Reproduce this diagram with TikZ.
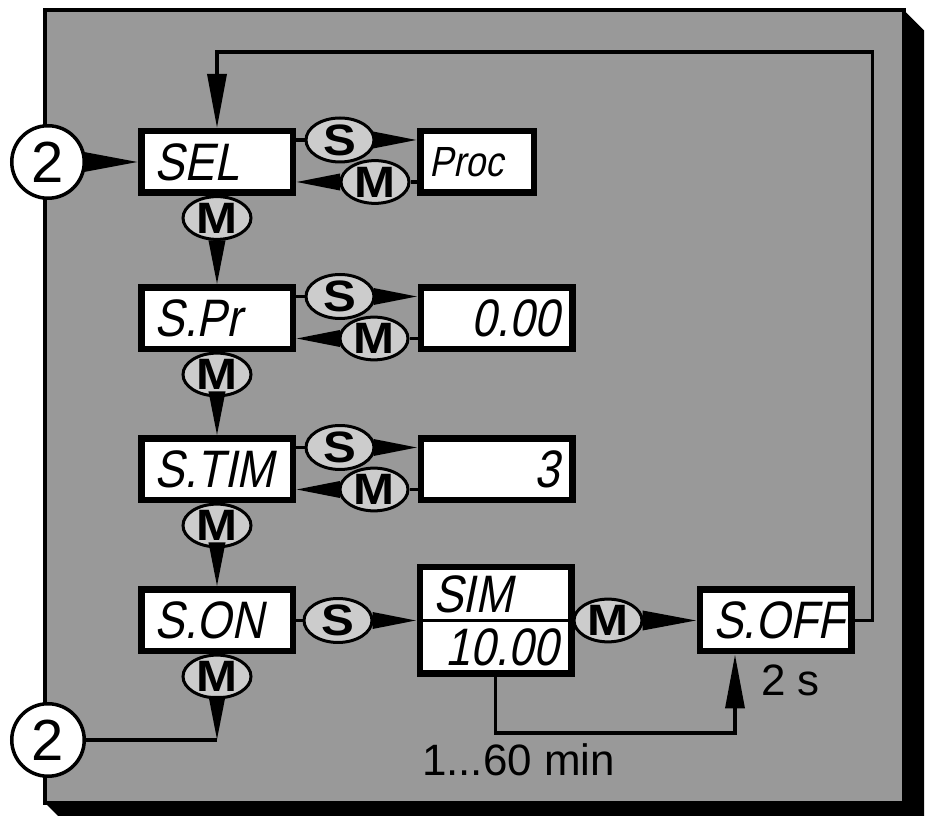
\documentclass[tikz,border=0pt]{standalone}
\usepackage{fontspec}
\setmainfont{Liberation Sans}
\newfontfamily\lcdfont[FakeStretch=0.85,FakeSlant=0.2]{Liberation Sans}
\newfontfamily\keyfont[FakeStretch=1.12]{Liberation Sans}
\usetikzlibrary{positioning, arrows.meta, shapes.geometric}
\definecolor{panelgray}{gray}{0.6}
\definecolor{keygray}{gray}{0.8}

\begin{document}
\begin{tikzpicture}[
    node distance=2cm,
    on grid,
    lcd/.style={
        draw,
        rectangle,
        fill=white,
        line width=0.13cm,
        minimum width=3.03cm,
        minimum height=1.23cm,
        inner sep=0pt,
        text width=2.5cm,
        align=left,
        font=\lcdfont\fontsize{30}{30}\selectfont
    },
    value/.style={lcd, align=right},
    key/.style={
        draw,
        ellipse,
        fill=keygray,
        line width=0.06cm,
        minimum width=1.36cm,
        minimum height=0.8cm,
        inner sep=0pt,
        font=\keyfont\bfseries\fontsize{25}{25}\selectfont
    },
    jump/.style={
        draw,
        circle,
        fill=white,
        line width=0.07cm,
        minimum size=1.45cm,
        inner sep=0pt,
        font=\fontsize{33}{33}\selectfont
    },
    wire/.style={draw, line width=0.07cm},
    wedge/.style={wire, -{Triangle[length=0.88cm,width=0.32cm]}},
    wedge long/.style={wire, -{Triangle[length=1.08cm,width=0.38cm]}},
    note/.style={font=\fontsize{25}{25}\selectfont}
]
\useasboundingbox (0,0) rectangle (18.72,-16.32);
\clip (0,0) rectangle (18.72,-16.32);

% panel
\fill (18.08,-0.21) -- (18.48,-0.61) -- (18.48,-16.46) -- (1.3,-16.46) -- (0.9,-16.06) -- cycle;
\draw[line width=0.08cm, fill=panelgray] (0.9,-0.21) rectangle (18.08,-16.06);

% displays
\node[lcd] (sel) at (4.34,-3.24) {SEL};
\node[lcd, below=3.13 of sel] (spr) {S.Pr};
\node[lcd, below=3.02 of spr] (stim) {S.TIM};
\node[lcd, below=3.02 of stim] (son) {S.ON};

\node[lcd, right=5.2 of sel, minimum width=2.27cm, text width=1.9cm,
      font=\lcdfont\fontsize{24}{24}\selectfont] (proc) {Proc};
\node[value, right=5.59 of spr] (prval) {0.00};
\node[value, right=5.59 of stim] (timval) {3};
\node[lcd, right=5.57 of son, minimum height=2.13cm] (sim) {SIM\\\hspace*{\fill}10.00};
\node[lcd, right=5.6 of sim] (soff) {S.OFF};

% keys
\node[key, above right=0.44 and 2.46 of sel] (s1) {S};
\node[key, below right=0.40 and 3.16 of sel] (m1) {M};
\node[key, above right=0.44 and 2.46 of spr] (s2) {S};
\node[key, below right=0.40 and 3.14 of spr] (m2) {M};
\node[key, above right=0.44 and 2.46 of stim] (s3) {S};
\node[key, below right=0.40 and 3.14 of stim] (m3) {M};
\node[key, right=2.42 of son] (s4) {S};
\node[key, right=2.25 of sim] (m5) {M};

\node[key, below=1.12 of sel] (mv1) {M};
\node[key, below=1.12 of spr] (mv2) {M};
\node[key, below=1.12 of stim] (mv3) {M};
\node[key, below=1.12 of son] (mv4) {M};

% jumps
\node[jump, left=3.38 of sel] (in) {2};
\coordinate[below=2.39 of son] (back);
\node[jump] (out) at (in |- back) {2};
\coordinate[above=1.52 of sel.north] (top);
\coordinate[below=1.12 of sim.south] (tmr);

% notes
\node[note] (range) at ([xshift=0.46cm, yshift=-0.54cm]tmr) {1...60 min};
\node[note, below right=1.2 and 0.3 of soff] (hold) {2 s};

% transitions
\path[wire]
(in) edge[wedge long] (sel)

(sel.east |- s1) edge (s1)
(s1) edge[wedge] (proc.west |- s1)
(proc.west |- m1) edge (m1)
(m1) edge[wedge] (sel.east |- m1)

(spr.east |- s2) edge (s2)
(s2) edge[wedge] (prval.west |- s2)
(prval.west |- m2) edge (m2)
(m2) edge[wedge] (spr.east |- m2)

(stim.east |- s3) edge (s3)
(s3) edge[wedge] (timval.west |- s3)
(timval.west |- m3) edge (m3)
(m3) edge[wedge] (stim.east |- m3)

(sel) edge (mv1)
(mv1) edge[wedge] (spr)
(spr) edge (mv2)
(mv2) edge[wedge] (stim)
(stim) edge (mv3)
(mv3) edge[wedge] (son)
(son) edge (mv4)
(mv4) edge[wedge] (back)
(back) edge (out)

(son) edge (s4)
(s4) edge[wedge] (sim.west |- s4)
(sim) edge (m5)
(m5) edge[wedge long] (soff)
(sim.west) edge (sim.east);

\draw[wedge long] (soff.east) -- ++(0.36,0) |- (top) -- (sel.north);
\draw[wedge long] (sim.south) -- (tmr) -| ([xshift=-0.81cm]soff.south);

\end{tikzpicture}
\end{document}
